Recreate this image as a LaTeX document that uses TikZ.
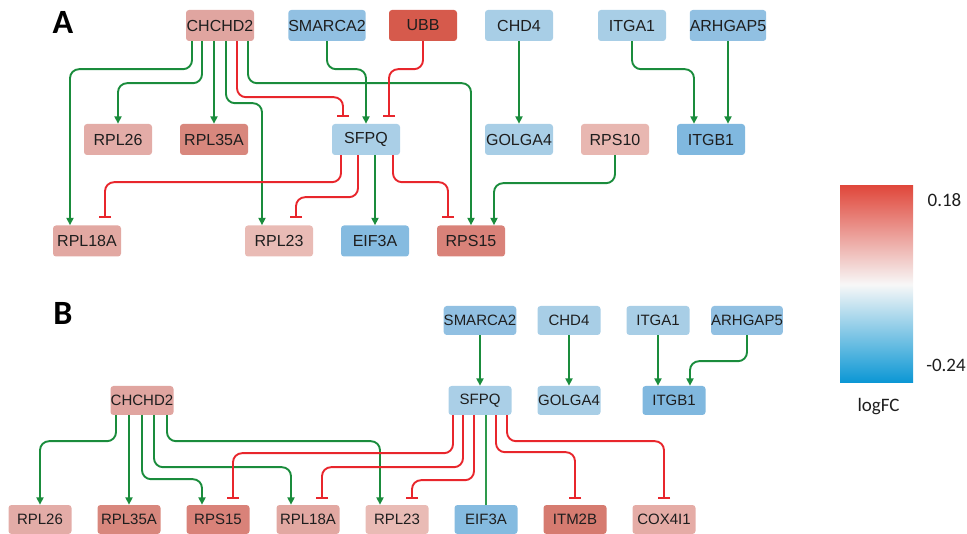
\documentclass[tikz,border=0pt]{standalone}
\usepackage{fontspec}
\setmainfont{Liberation Sans}
\newfontfamily\calib{Carlito}
\usetikzlibrary{arrows.meta,calc}
\definecolor{txt}{HTML}{1E1E1E}
\definecolor{grn}{HTML}{1A8C3C}
\definecolor{grnb}{HTML}{2E9A4C}
\definecolor{rd}{HTML}{E8262C}
\definecolor{cCHCHD}{HTML}{E0A5A0}
\definecolor{cSMARCA}{HTML}{91C0E2}
\definecolor{cUBB}{HTML}{D65A4C}
\definecolor{cLB}{HTML}{A8CEE6}
\definecolor{cRPL26}{HTML}{E3ACA7}
\definecolor{cRPL35A}{HTML}{D8877D}
\definecolor{cSFPQ}{HTML}{AACFE7}
\definecolor{cRPS10}{HTML}{E8B7B1}
\definecolor{cITGB}{HTML}{80B8DF}
\definecolor{cRPL18A}{HTML}{E2A8A2}
\definecolor{cRPL23}{HTML}{E9BBB5}
\definecolor{cEIF}{HTML}{85BBE0}
\definecolor{cRPS15}{HTML}{D98279}
\definecolor{cITM}{HTML}{D67B70}
\definecolor{cCOX}{HTML}{E5ACA6}
\definecolor{legR}{HTML}{E0483C}
\definecolor{legB}{HTML}{0A96D4}
\begin{document}
\begin{tikzpicture}[x=1pt,y=-1pt,
  gene/.style={rectangle, rounded corners=3pt, minimum width=68pt, minimum height=31pt, inner sep=0pt, text=txt, font=\fontsize{16}{18}\selectfont},
  geneB/.style={gene, minimum width=63pt, minimum height=29pt, font=\fontsize{15}{17}\selectfont},
  act/.style={draw=grn, line width=1.9pt, -{Triangle[length=7.5pt,width=7pt]}, rounded corners=9pt},
  inh/.style={draw=rd, line width=1.9pt, -{Bar[width=12pt]}, rounded corners=9pt},
  assoc/.style={draw=grnb, line width=1.1pt},
  panel/.style={font=\calib\bfseries\fontsize{34}{36}\selectfont, text=black, inner sep=0pt},
  leglab/.style={font=\calib\fontsize{19}{21}\selectfont, text=txt, inner sep=0pt}]
\useasboundingbox (0,0) rectangle (967,534);
% ---------- Panel A ----------
\node[panel] (labA) at (63,22) {A};
\node[gene, fill=cCHCHD] (aCHCHD2) at (220,25.5) {CHCHD2};
\node[gene, fill=cSMARCA] (aSMARCA2) at (327,25.5) {SMARCA2};
\node[gene, fill=cUBB] (aUBB) at (423,25.5) {UBB};
\node[gene, fill=cLB] (aCHD4) at (519,25.5) {CHD4};
\node[gene, fill=cLB] (aITGA1) at (632,25.5) {ITGA1};
\node[gene, fill=cSMARCA] (aARHGAP5) at (728,25.5) {ARHGAP5};
\node[gene, fill=cRPL26] (aRPL26) at (118,139.5) {RPL26};
\node[gene, fill=cRPL35A] (aRPL35A) at (214,139.5) {RPL35A};
\node[gene, fill=cSFPQ] (aSFPQ) at (366,139.5) {SFPQ};
\node[gene, fill=cLB] (aGOLGA4) at (519,139.5) {GOLGA4};
\node[gene, fill=cRPS10] (aRPS10) at (615,139.5) {RPS10};
\node[gene, fill=cITGB] (aITGB1) at (711,139.5) {ITGB1};
\node[gene, fill=cRPL18A] (aRPL18A) at (87,241) {RPL18A};
\node[gene, fill=cRPL23] (aRPL23) at (279,241) {RPL23};
\node[gene, fill=cEIF] (aEIF3A) at (375,241) {EIF3A};
\node[gene, fill=cRPS15] (aRPS15) at (471,241) {RPS15};
% edges A
\draw[act] ([xshift=-28pt]aCHCHD2.south) -- ++(0,28) -| ([xshift=-17pt]aRPL18A.north);
\draw[act] ([xshift=-18pt]aCHCHD2.south) -- ++(0,42) -| (aRPL26.north);
\draw[act] ([xshift=-6pt]aCHCHD2.south) -- (aRPL35A.north);
\draw[act] ([xshift=6pt]aCHCHD2.south) -- ++(0,62) -| ([xshift=-17pt]aRPL23.north);
\draw[inh] ([xshift=17pt]aCHCHD2.south) -- ++(0,56) -| ([xshift=-23pt,yshift=7pt]aSFPQ.north);
\draw[act] ([xshift=28pt]aCHCHD2.south) -- ++(0,42) -| (aRPS15.north);
\draw[act] (aSMARCA2.south) -- ++(0,28) -| (aSFPQ.north);
\draw[inh] (aUBB.south) -- ++(0,28) -| ([xshift=23pt,yshift=7pt]aSFPQ.north);
\draw[act] (aCHD4.south) -- (aGOLGA4.north);
\draw[act] (aITGA1.south) -- ++(0,28) -| ([xshift=-17pt]aITGB1.north);
\draw[act] (aARHGAP5.south) -- ([xshift=17pt]aITGB1.north);
\draw[inh] ([xshift=-25pt]aSFPQ.south) -- ++(0,27) -| ([xshift=18pt,yshift=7pt]aRPL18A.north);
\draw[inh] ([xshift=-8pt]aSFPQ.south) -- ++(0,42) -| ([xshift=17pt,yshift=7pt]aRPL23.north);
\draw[act] ([xshift=9pt]aSFPQ.south) -- (aEIF3A.north);
\draw[inh] ([xshift=27pt]aSFPQ.south) -- ++(0,27) -| ([xshift=-23pt,yshift=7pt]aRPS15.north);
\draw[act] (aRPS10.south) -- ++(0,28) -| ([xshift=23pt]aRPS15.north);
% ---------- Panel B ----------
\node[panel] (labB) at (63,313) {B};
\node[geneB, fill=cSMARCA] (bSMARCA2) at (480,320.5) {SMARCA2};
\node[geneB, fill=cLB] (bCHD4) at (569,320.5) {CHD4};
\node[geneB, fill=cLB] (bITGA1) at (658,320.5) {ITGA1};
\node[geneB, fill=cSMARCA] (bARHGAP5) at (747,320.5) {ARHGAP5};
\node[geneB, fill=cCHCHD] (bCHCHD2) at (142,400.5) {CHCHD2};
\node[geneB, fill=cSFPQ] (bSFPQ) at (480,400.5) {SFPQ};
\node[geneB, fill=cLB] (bGOLGA4) at (569,400.5) {GOLGA4};
\node[geneB, fill=cITGB] (bITGB1) at (674,400.5) {ITGB1};
\node[geneB, fill=cRPL26] (bRPL26) at (40,519.5) {RPL26};
\node[geneB, fill=cRPL35A] (bRPL35A) at (129,519.5) {RPL35A};
\node[geneB, fill=cRPS15] (bRPS15) at (218,519.5) {RPS15};
\node[geneB, fill=cRPL18A] (bRPL18A) at (308,519.5) {RPL18A};
\node[geneB, fill=cRPL23] (bRPL23) at (397,519.5) {RPL23};
\node[geneB, fill=cEIF] (bEIF3A) at (486,519.5) {EIF3A};
\node[geneB, fill=cITM] (bITM2B) at (575,519.5) {ITM2B};
\node[geneB, fill=cCOX] (bCOX4I1) at (664,519.5) {COX4I1};
% edges B
\draw[act] (bSMARCA2.south) -- (bSFPQ.north);
\draw[act] (bCHD4.south) -- (bGOLGA4.north);
\draw[act] (bITGA1.south) -- ([xshift=-16pt]bITGB1.north);
\draw[act] (bARHGAP5.south) -- ++(0,26) -| ([xshift=16pt]bITGB1.north);
\draw[act] ([xshift=-26pt]bCHCHD2.south) -- ++(0,26) -| (bRPL26.north);
\draw[act] ([xshift=-13pt]bCHCHD2.south) -- (bRPL35A.north);
\draw[act] (bCHCHD2.south) -- ++(0,64) -| ([xshift=-16pt]bRPS15.north);
\draw[act] ([xshift=12pt]bCHCHD2.south) -- ++(0,52) -| ([xshift=-17pt]bRPL18A.north);
\draw[act] ([xshift=25pt]bCHCHD2.south) -- ++(0,26) -| ([xshift=-17pt]bRPL23.north);
\draw[inh] ([xshift=-27pt]bSFPQ.south) -- ++(0,38) -| ([xshift=15pt,yshift=6pt]bRPS15.north);
\draw[inh] ([xshift=-17pt]bSFPQ.south) -- ++(0,52) -| ([xshift=14pt,yshift=6pt]bRPL18A.north);
\draw[inh] ([xshift=-6pt]bSFPQ.south) -- ++(0,65) -| ([xshift=15pt,yshift=6pt]bRPL23.north);
\draw[assoc] ([xshift=6pt]bSFPQ.south) -- (bEIF3A.north);
\draw[inh] ([xshift=16pt]bSFPQ.south) -- ++(0,37) -| ([yshift=6pt]bITM2B.north);
\draw[inh] ([xshift=27pt]bSFPQ.south) -- ++(0,26) -| ([yshift=6pt]bCOX4I1.north);
% ---------- Legend ----------
\node[rectangle, minimum width=73pt, minimum height=197pt, inner sep=0pt,
  top color=legR, bottom color=legB, middle color=white!94!gray] (legbar) at (876.5,284.5) {};
\node[leglab] (lhi) at (944.5,200.5) {0.18};
\node[leglab] (llo) at (946,365) {-0.24};
\node[leglab] (lname) at (878.5,407) {logFC};
\end{tikzpicture}
\end{document}
